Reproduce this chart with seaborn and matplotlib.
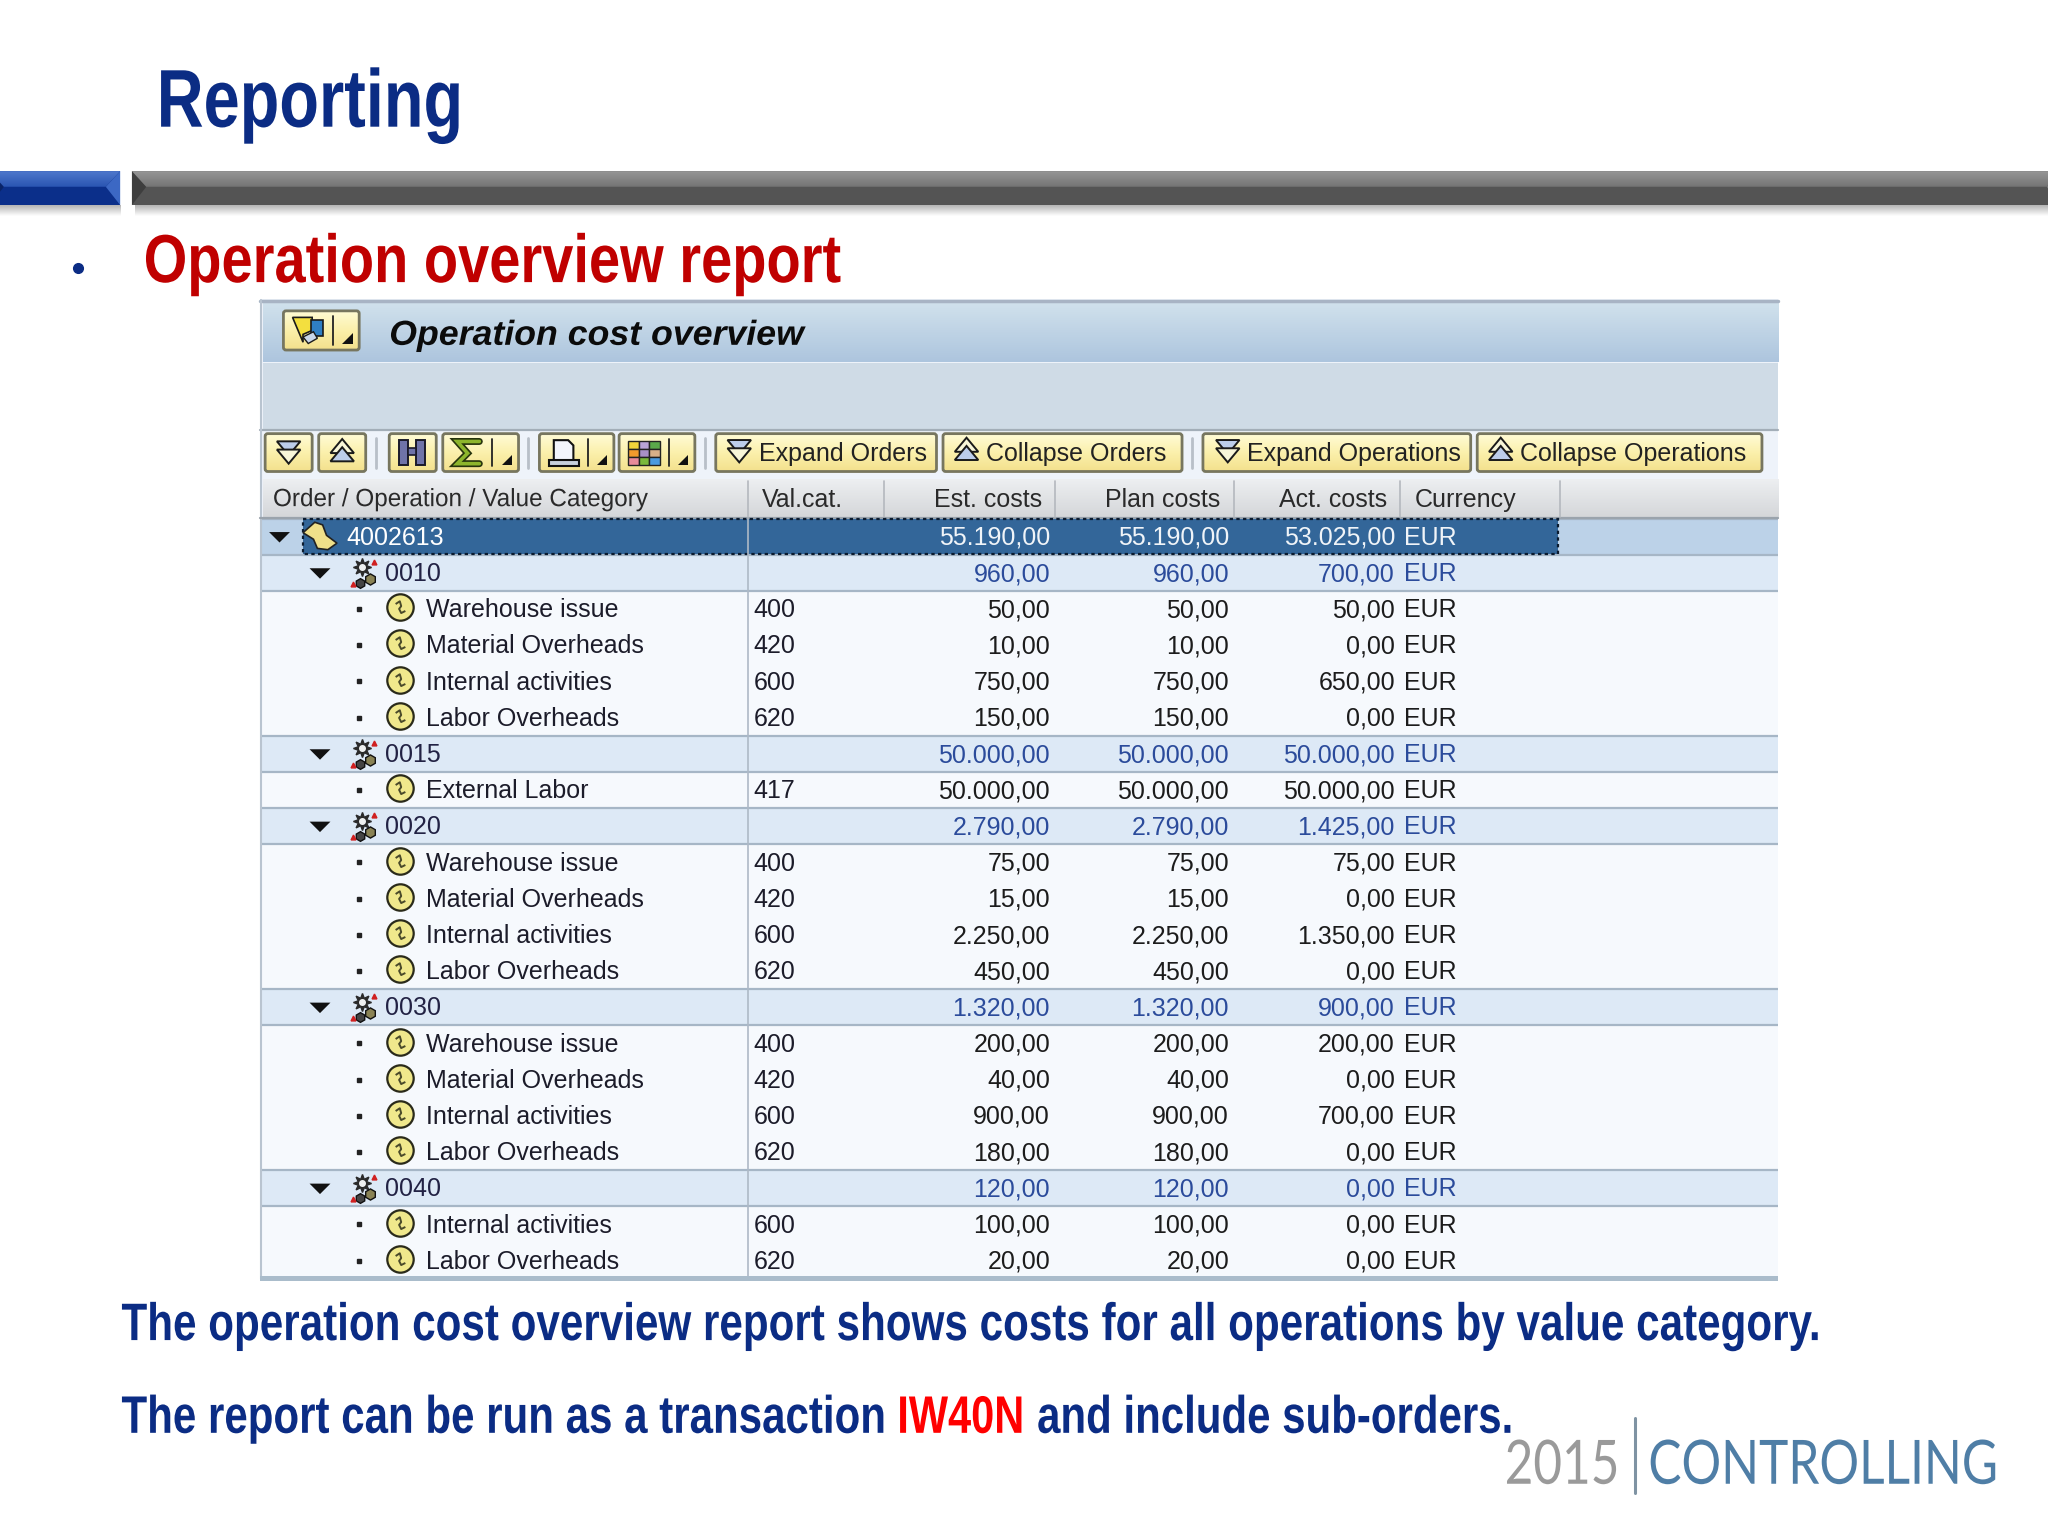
import numpy as np
import matplotlib
matplotlib.use("Agg")
import matplotlib.pyplot as plt
import seaborn as sns
from matplotlib.colors import ListedColormap, LinearSegmentedColormap
from matplotlib.patches import FancyBboxPatch, Rectangle, Polygon
from matplotlib.path import Path
from matplotlib.patheffects import AbstractPathEffect
from matplotlib.transforms import Affine2D, blended_transform_factory

# row data, 0 = order, 1 = operation, 2 = value category
row_kind = [0, 1, 2, 2, 2, 2, 1, 2, 1, 2, 2, 2, 2, 1, 2, 2, 2, 2, 1, 2, 2]
row_label = ["4002613", "0010", "Warehouse issue", "Material Overheads", "Internal activities", "Labor Overheads",
             "0015", "External Labor",
             "0020", "Warehouse issue", "Material Overheads", "Internal activities", "Labor Overheads",
             "0030", "Warehouse issue", "Material Overheads", "Internal activities", "Labor Overheads",
             "0040", "Internal activities", "Labor Overheads"]
val_cat = ["", "", "400", "420", "600", "620", "", "417", "", "400", "420", "600", "620",
           "", "400", "420", "600", "620", "", "600", "620"]
est_costs = [55190, 960, 50, 10, 750, 150, 50000, 50000, 2790, 75, 15, 2250, 450,
             1320, 200, 40, 900, 180, 120, 100, 20]
plan_costs = [55190, 960, 50, 10, 750, 150, 50000, 50000, 2790, 75, 15, 2250, 450,
              1320, 200, 40, 900, 180, 120, 100, 20]
act_costs = [53025, 700, 50, 0, 650, 0, 50000, 50000, 1425, 75, 0, 1350, 0,
             900, 200, 0, 700, 0, 0, 0, 0]
currency = "EUR"

header_labels = ["Order / Operation / Value Category", "Val.cat.", "Est. costs", "Plan costs", "Act. costs", "Currency"]
button_labels = ["Expand Orders", "Collapse Orders", "Expand Operations", "Collapse Operations"]

SANS = ["Liberation Sans", "DejaVu Sans"]
NAVY = "#0b2c84"
VIEW = 2048 / 1568  # layout below is in 1568 wide units


class Tall(AbstractPathEffect):
    # no narrow face is installed: set the text smaller, then stretch it up from its baseline
    def __init__(self, f):
        super().__init__()
        self.f = f

    def draw_path(self, renderer, gc, tpath, affine, rgbFace=None):
        y0 = affine.get_matrix()[1, 2]
        stretch = Affine2D().translate(0, -y0).scale(1, self.f).translate(0, y0)
        renderer.draw_path(gc, tpath, affine + stretch, rgbFace)


def fit_text(x, y, s, width, fontsize, **kw):
    t = ax.text(x, y, s, fontsize=fontsize, **kw)
    natural = t.get_window_extent(fig.canvas.get_renderer())
    f = width * VIEW / natural.width
    t.set_fontsize(fontsize * f)
    t.set_path_effects([Tall(1 / f)])
    return t


def money(v):
    return f"{v:,.2f}".replace(",", "#").replace(".", ",").replace("#", ".")


def grad(x0, x1, y0, y1, colors, clip=None, zorder=1):
    cm = LinearSegmentedColormap.from_list("g", colors)
    im = ax.imshow(np.linspace(0, 1, 64).reshape(-1, 1), cmap=cm, aspect="auto",
                   extent=(x0, x1, y1, y0), zorder=zorder, interpolation="bilinear")
    if clip is not None:
        im.set_clip_path(clip)
    return im


def bevel_bar(x0, x1, top, flat, left, right):
    y0, ym, y1, b = 131, 143, 157, 11
    ax.add_patch(Rectangle((x0, y0), x1 - x0, y1 - y0, fc=flat, ec="none", zorder=1))
    ax.add_patch(Polygon([(x0, y0), (x0 + b, ym), (x0, y1)], fc=left, ec="none", zorder=2))
    ax.add_patch(Polygon([(x1, y0), (x1 - b, ym), (x1, y1)], fc=right, ec="none", zorder=2))
    band = Polygon([(x0, y0), (x1, y0), (x1 - b, ym), (x0 + b, ym)], fc="none", ec="none", zorder=2)
    ax.add_patch(band)
    grad(x0, x1, y0, ym, top, clip=band, zorder=2)
    grad(x0 + 2, x1, y1, y1 + 8, ["#b4b4b4", "#ffffff"], zorder=1)


def button(x0, x1, y0, y1):
    box = FancyBboxPatch((x0 + 2, y0 + 2), x1 - x0 - 4, y1 - y0 - 4, boxstyle="round,pad=2,rounding_size=2",
                         fc="none", ec="#77765f", lw=2, zorder=4)
    ax.add_patch(box)
    grad(x0, x1, y0, y1, ["#fffbd6", "#fbf0ab", "#f3e08c"], clip=box, zorder=3)


def arrows(x, y, up, s=1.0):
    d = -1 if up else 1
    fills = ("#f8f6d8", "#bccdea") if up else ("#bccdea", "#f8f6d8")
    for off, fill in zip((-4, 3), fills):
        yy = y + off * s
        ax.add_patch(Polygon([(x - 10 * s, yy - 5 * d * s), (x + 10 * s, yy - 5 * d * s), (x, yy + 7 * d * s)],
                             fc=fill, ec="#1a1a1a", lw=1.4, zorder=6))


def dropdown(x1, y0=332, y1=361):
    ax.plot([x1 - 20, x1 - 20], [y0 + 4, y1 - 4], color="#222222", lw=1.3, zorder=6)
    xd, yd = x1 - 9, y1 - 8
    ax.add_patch(Polygon([(xd - 4, yd + 3), (xd + 4, yd + 3), (xd + 4, yd - 5)], fc="#111111", ec="none", zorder=6))


def tree_arrow(x, y):
    dy = 1 / 27.7
    ax.add_patch(Polygon([(x - 8, y - 3.5 * dy), (x + 8, y - 3.5 * dy), (x, y + 4.5 * dy)],
                         fc="#111111", ec="none", transform=tx, zorder=5))


sns.set_theme(style="white")
fig = plt.figure(figsize=(20.48, 15.36), dpi=100, facecolor="white")

# table rows through a seaborn heatmap, one column spanning the whole table
TOP, BOTTOM, LEFT, RIGHT = 397, 979, 199, 1361
tbl = fig.add_axes([LEFT / 1568, 1 - BOTTOM / 1176, (RIGHT - LEFT) / 1568, (BOTTOM - TOP) / 1176])
row_cmap = ListedColormap(["#bcd2e8", "#dde9f6", "#f6f9fd"])
sns.heatmap(np.array(row_kind).reshape(-1, 1), ax=tbl, cmap=row_cmap, vmin=-0.5, vmax=2.5,
            cbar=False, xticklabels=False, yticklabels=False)
edges = sorted({e for i, k in enumerate(row_kind) if k < 2 for e in (i, i + 1)})
tbl.hlines(edges, 0, 1, color="#a6b6c6", lw=1.6)

ax = fig.add_axes([0, 0, 1, 1], facecolor="none")
ax.set_axis_off()
tx = blended_transform_factory(ax.transData, tbl.transData)

# slide heading and rule bars
fit_text(120, 97, "Reporting", 235, 59, color=NAVY, fontweight="bold", family=SANS, va="baseline")
bevel_bar(-8, 92, ["#4f78cc", "#2a55b2"], "#0b2f8a", "#0a2468", "#3c68c4")
bevel_bar(101, 1578, ["#969696", "#747474"], "#545454", "#3e3e3e", "#7c7c7c")
ax.plot([60], [205], "o", color=NAVY, ms=7)
fit_text(110, 216, "Operation overview report", 534, 49, color="#c00000", fontweight="bold",
         family=SANS, va="baseline")

# SAP window chrome
ax.add_patch(Rectangle((LEFT, 229), RIGHT - LEFT, 168, fc="#eef3fa", ec="none", zorder=0.5))
grad(LEFT + 2, RIGHT, 232, 277, ["#d0e1ec", "#adc5de"])
ax.plot([LEFT, RIGHT], [230.5, 230.5], color="#a8b4c4", lw=2.5)
ax.add_patch(Rectangle((LEFT + 2, 278), RIGHT - LEFT - 2, 51, fc="#cfdbe6", ec="none", zorder=1))
ax.plot([LEFT, RIGHT], [329, 329], color="#a3aeb8", lw=1.6, zorder=2)
ax.plot([LEFT + 1, LEFT + 1], [230, 979], color="#b9c4d0", lw=1.5, zorder=2)
fit_text(298, 264, "Operation cost overview", 318, 25, fontweight="bold", style="italic",
         family=SANS, color="#0b0b0b", va="baseline")
button(217, 275, 238, 268)
ax.add_patch(Polygon([(224, 243), (239, 243), (239, 253), (232, 256), (232, 262)], fc="#f3df3f", ec="#1a1a1a",
                     lw=1.2, zorder=6))
ax.add_patch(Rectangle((238, 245), 9, 12, fc="#2f7fc4", ec="#1a1a1a", lw=1.2, zorder=6))
ax.add_patch(Polygon([(232, 258), (240, 254), (243, 259), (236, 263)], fc="#c9d7ea", ec="#1a1a1a", lw=1, zorder=6))
dropdown(275, 238, 268)

# toolbar
for x0, x1, up in [(203, 239, False), (244, 280, True)]:
    button(x0, x1, 332, 361)
    arrows((x0 + x1) / 2, 346, up, 0.9)
for x0, x1, drop in [(298, 334, False), (339, 397, True), (413, 470, True), (474, 532, True)]:
    button(x0, x1, 332, 361)
    if drop:
        dropdown(x1)
for x in (288, 404, 540, 913):
    ax.plot([x, x], [335, 358], color="#b8bfc8", lw=2)

# binoculars
for bx in (309, 322):
    ax.add_patch(Rectangle((bx - 3.5, 337), 7, 19, fc="#6f73a8", ec="#1a1a2a", lw=1.4, zorder=6))
ax.add_patch(Rectangle((312.5, 343), 6, 5, fc="#6f73a8", ec="#1a1a2a", lw=1.2, zorder=6))
# sigma
sigma_x, sigma_y = [367, 350, 358, 350, 367], [338, 338, 347, 355, 355]
ax.plot(sigma_x, sigma_y, color="#26330c", lw=5, zorder=6, solid_joinstyle="miter")
ax.plot(sigma_x, sigma_y, color="#8db52c", lw=2.6, zorder=7, solid_joinstyle="miter")
# printer
ax.add_patch(Polygon([(424, 337), (435, 337), (439, 341), (439, 353), (424, 353)], fc="#f3f5fb", ec="#111111",
                     lw=1.5, zorder=6))
ax.add_patch(Rectangle((420, 352), 23, 5, fc="#c6cfdc", ec="#111111", lw=1.5, zorder=6))
# layout grid
grid_colors = [["#f0d43a", "#b9a4d6", "#5aa84a"], ["#f09a2c", "#a890c8", "#d8b088"], ["#e88a9a", "#7ab83c", "#4a9ae0"]]
for r, cols in enumerate(grid_colors):
    for c, col in enumerate(cols):
        ax.add_patch(Rectangle((481 + c * 8, 338 + r * 6), 8, 6, fc=col, ec="#222222", lw=1, zorder=6))

for (x0, x1, up, tx0), lab in zip([(548, 717, False, 581), (722, 905, True, 755),
                                   (921, 1126, False, 955), (1131, 1349, True, 1164)], button_labels):
    button(x0, x1, 332, 361)
    arrows(tx0 - 15, 345, up, 0.9)
    ax.text(tx0, 346, lab, fontsize=18, family=SANS, color="#222222", va="center_baseline", zorder=7)

# column header
grad(LEFT + 2, RIGHT, 367, 397, ["#edeff1", "#d3d5d8"])
ax.plot([LEFT, RIGHT], [396.5, 396.5], color="#9aa3ac", lw=1.6, zorder=2)
for x in (573, 677, 808, 945, 1072, 1194):
    ax.plot([x, x], [368, 396], color="#b4b8be", lw=1.2, zorder=2)
fit_text(209, 381, header_labels[0], 287, 18, family=SANS, color="#2a2a2a", va="center_baseline", zorder=3)
for x, lab, ha in zip((583, 798, 934, 1062, 1083), header_labels[1:], ("left", "right", "right", "right", "left")):
    ax.text(x, 381, lab, fontsize=18, family=SANS, color="#2a2a2a", ha=ha, va="center_baseline", zorder=3)

# selected order row
ax.add_patch(Rectangle((232, 0.02), 961, 0.96, fc="#336699", ec="#0c1c30", ls=(0, (1.5, 1.5)), lw=1.6,
                       transform=tx, zorder=2))
ax.plot([573, 573], [0, 21], color="#aeb9c6", lw=1.2, transform=tx, zorder=3)

# custom little glyphs for the row icons
swirl = Path([(-0.7, 0.5), (-0.1, 0.9), (0.1, 0.2), (-0.2, -0.2), (0.1, -0.8), (0.7, -0.5)])
scroll = [(-13, -3), (-4, -11), (2, -9), (5, -1), (13, 5), (6, 10), (-2, 9), (-5, 2)]

# table rows
row_step = 27.7
for i, kind in enumerate(row_kind):
    y = i + 0.5
    if kind == 0:
        text_col, num_col = "white", "#f0f4f8"
        tree_arrow(214, y)
        ax.add_patch(Polygon([(245 + a, y + b / row_step) for a, b in scroll], fc="#f0e08a", ec="#222222", lw=1.2,
                             transform=tx, zorder=5))
        label_x = 265
    elif kind == 1:
        text_col, num_col = "#222244", "#2b4b9b"
        tree_arrow(245, y)
        ax.plot([277], [y - 0.15], marker=(8, 1, 0), color="#2a2a2a", ms=13, transform=tx, zorder=5)
        ax.plot([277], [y - 0.15], marker="o", color="#eef0f0", ms=4, transform=tx, zorder=6)
        ax.plot([283], [y + 0.17], marker="h", color="#8a8355", mec="#111111", ms=8, transform=tx, zorder=6)
        ax.plot([276], [y + 0.27], marker="h", color="#444444", mec="#111111", ms=7, transform=tx, zorder=6)
        ax.plot([286, 270], [y - 0.3, y + 0.3], ls="none", marker="^", color="#d02020", ms=3.5, transform=tx, zorder=6)
        label_x = 295
    else:
        text_col, num_col = "#1c1c2a", "#1c1c1c"
        ax.plot([275], [y], marker="s", color="#222222", ms=2.5, transform=tx, zorder=5)
        ax.plot([306], [y - 0.05], marker="o", color="#f0e88c", mec="#2a2a1a", mew=1.6, ms=19, transform=tx, zorder=5)
        ax.plot([306], [y - 0.05], marker=swirl, mfc="none", mec="#4a4a2a", mew=1.4, ms=9, transform=tx, zorder=6)
        label_x = 326
    dy = -1 / row_step
    ax.text(label_x, y + dy, row_label[i], fontsize=18, family=SANS, color=text_col, va="center_baseline",
            transform=tx, zorder=5)
    ax.text(577, y + dy, val_cat[i], fontsize=18, family=SANS, color=text_col, va="center_baseline",
            transform=tx, zorder=5)
    for x, vals in ((804, est_costs), (941, plan_costs), (1068, act_costs)):
        ax.text(x, y + dy, money(vals[i]), fontsize=18, family=SANS, color=num_col, ha="right",
                va="center_baseline", transform=tx, zorder=5)
    ax.text(1075, y + dy, currency, fontsize=18, family=SANS, color=num_col, va="center_baseline",
            transform=tx, zorder=5)

ax.add_patch(Rectangle((LEFT, 977), RIGHT - LEFT, 4, fc="#aabccb", ec="none", zorder=6))

# caption lines
caption = dict(fontweight="bold", family=SANS, va="baseline")
fit_text(93, 1026, "The operation cost overview report shows costs for all operations by value category.", 1298, 38,
         color=NAVY, **caption)
fit_text(93, 1097, "The report can be run as a transaction", 584, 38, color=NAVY, **caption)
fit_text(687, 1097, "IW40N", 97, 38, color="#ff0000", **caption)
fit_text(794, 1097, "and include sub-orders.", 364, 38, color=NAVY, **caption)

# logo
fit_text(1152, 1136, "2015", 88, 44, color="#9a9a9a", family="Lato", va="baseline")
ax.plot([1252, 1252], [1086, 1143], color="#7f93a3", lw=2.2)
fit_text(1262, 1136, "CONTROLLING", 268, 44, color="#4f7ea6", family="Lato", va="baseline")

ax.set_xlim(0, 1568)
ax.set_ylim(1176, 0)
fig.savefig("out.png", dpi=100)
